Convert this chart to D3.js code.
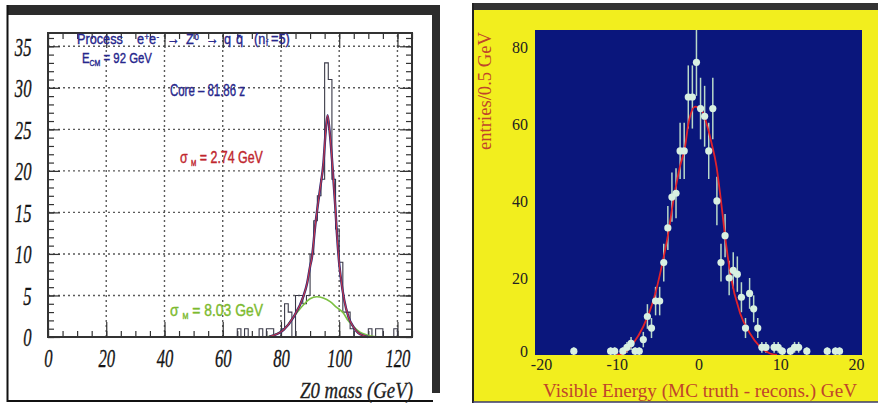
<!DOCTYPE html>
<html><head><meta charset="utf-8">
<script src="https://cdn.jsdelivr.net/npm/d3@7"></script>
<style>body{margin:0;background:#fff}svg{display:block}</style>
</head><body><svg id="c" width="878" height="406"></svg>
<script>
// ---------- Left panel data: Z0 mass histogram ----------
const massBinLow = [60,61.25,62.5,63.75,65,66.25,67.5,68.75,70,71.25,72.5,73.75,75,76.25,77.5,78.75,80,81.25,82.5,83.75,85,86.25,87.5,88.75,90,91.25,92.5,93.75,95,96.25,97.5,98.75,100,101.25,102.5,103.75,105,106.25,107.5,108.75,110,111.25,112.5,113.75,115,116.25,117.5,118.75,120];
const massCounts = [0,0,0,0,1,0,1,0,0,0,1,0,1,1,0,0,1,4,3,0,5,5,4,5,10,14,17,19,33,31,19,13,9,3,3,1,0,0,0,0,1,0,1,1,0,0,0,1,0];
const massBinWidth = 1.25;
const massTicks = [0,20,40,60,80,100,120];
const countTicks = [0,5,10,15,20,25,30,35];
// total fit (core + tail)
const coreFitX = [76,80.9,84.3,87.7,89,90,90.6,91.8,92.9,93.5,94.6,95.3,96,96.7,97.5,98,98.6,99.2,100.1,100.6,101.7,103.2,104.9,106.5,108.5,110];
const coreFitY = [0.05,0.85,2.4,4.9,6.5,8.5,9.5,13.5,16.5,18,21,24.5,26.7,24.8,21.5,19,16,12.5,8.5,7,4.5,2.4,1.2,0.5,0.15,0];
// tail fit (wide gaussian)
const tailFitX = [75,78,80.9,84.3,87.7,90,92.3,94.5,96.9,99,101.5,103,104.9,107,109.5,112,114,121];
const tailFitY = [0,0.3,0.85,2.4,3.85,4.6,4.85,4.7,4.25,3.6,2.85,2.0,1.25,0.6,0.25,0.05,0,0];

// ---------- Right panel data: visible energy resolution ----------
const energyBinCenter = [-15.25,-10.75,-10.25,-9.25,-8.75,-8.25,-7.75,-7.25,-6.75,-6.25,-5.75,-5.25,-4.75,-4.25,-3.75,-3.25,-2.75,-2.25,-1.75,-1.25,-0.75,-0.25,0.25,0.75,1.25,1.75,2.25,2.75,3.25,3.75,4.25,4.75,5.25,5.75,6.25,6.75,7.25,7.75,8.25,9.25,9.75,10.25,11.25,11.75,12.25,13.25,15.75,16.75,17.25];
const energyCounts = [1,1,1,1,2,3,1,1,4,10,7,14,14,24,33,41,42,53,53,67,67,76,64,62,53,64,40,24,31,20,22,21,15,7,16,12,7,2,2,2,2,1,1,2,2,1,1,1,1];
const energyErr = [1,1,1,1,1.4,1.7,1,1,2,3.2,2.6,3.7,3.7,4.9,5.7,6.4,6.5,7.3,7.3,8.2,8.2,8.7,8,7.9,7.3,8,6.3,4.9,5.6,4.5,4.7,4.6,3.9,2.6,4,3.5,2.6,1.4,1.4,1.4,1.4,1,1,1.4,1.4,1,1,1,1];
const energyFitX = [-10,-9.2,-8,-6.75,-5.5,-4.5,-3.7,-3.08,-2.26,-1.65,-1.24,-0.4,0.4,1.0,1.6,2.2,2.75,3.3,3.9,5.1,6.3,7.5,8.75,9.6];
const energyFitY = [0,0.4,3,7.4,14.3,23,31.6,40,49,54,60,64.5,63.5,60,55,49,40,30,21,10.8,5.6,2.2,0.4,0];
const energyXTicks = [-20,-10,0,10,20];
const energyYTicks = [0,20,40,60,80];

const svg = d3.select("#c");

// text helper: draw at font size, then squeeze horizontally to a target width
function fitLabel(x, y, width, attrs, build){
  const g = svg.append("g");
  const t = g.append("text");
  Object.entries(attrs).forEach(([k,v])=>t.attr(k,v));
  build(t);
  const w = t.node().getComputedTextLength();
  g.attr("transform",`translate(${x},${y}) scale(${width/w},1)`);
  return t;
}

// ================= LEFT PANEL =================
svg.append("rect").attr("x",7).attr("y",5).attr("width",433).attr("height",10).attr("fill","#2c2c2c");
svg.append("rect").attr("x",432).attr("y",5).attr("width",8).attr("height",388).attr("fill","#2c2c2c");
svg.append("rect").attr("x",8).attr("y",15).attr("width",424).attr("height",386).attr("fill","#fff");
svg.append("line").attr("x1",7.5).attr("x2",7.5).attr("y1",5).attr("y2",402).attr("stroke","#111").attr("stroke-width",2);
svg.append("line").attr("x1",7).attr("x2",433).attr("y1",401).attr("y2",401).attr("stroke","#111").attr("stroke-width",2);

const xM = d3.scaleLinear().domain([0,125]).range([48,412]);
const yM = d3.scaleLinear().domain([0,36.6]).range([337,33]);

// grid
const grid = svg.append("g").attr("stroke","#5a5a5a").attr("stroke-width",1.4).attr("stroke-dasharray","2,3");
massTicks.filter(v=>v>0).forEach(v=>grid.append("line").attr("x1",xM(v)).attr("x2",xM(v)).attr("y1",yM(0)).attr("y2",yM(36.6)));
countTicks.filter(v=>v>0).forEach(v=>grid.append("line").attr("x1",xM(0)).attr("x2",xM(125)).attr("y1",yM(v)).attr("y2",yM(v)));

function styleTicks(g){ g.select(".domain").remove(); g.selectAll("line").attr("stroke","#333").attr("stroke-width",1.2); }
const minorX = d3.range(0,126,5), minorY = d3.range(0,37,1);
svg.append("g").attr("transform",`translate(0,${yM(0)})`).call(d3.axisBottom(xM).tickValues(minorX).tickSize(-6).tickFormat("")).call(styleTicks);
svg.append("g").attr("transform",`translate(0,${yM(36.6)})`).call(d3.axisTop(xM).tickValues(minorX).tickSize(-6).tickFormat("")).call(styleTicks);
svg.append("g").attr("transform",`translate(0,${yM(36.6)})`).call(d3.axisTop(xM).tickValues(massTicks).tickSize(-15).tickFormat("")).call(styleTicks);
svg.append("g").attr("transform",`translate(${xM(0)},0)`).call(d3.axisLeft(yM).tickValues(minorY).tickSize(-6).tickFormat("")).call(styleTicks);
svg.append("g").attr("transform",`translate(${xM(125)},0)`).call(d3.axisRight(yM).tickValues(minorY).tickSize(-6).tickFormat("")).call(styleTicks);
svg.append("g").attr("transform",`translate(${xM(125)},0)`).call(d3.axisRight(yM).tickValues(countTicks).tickSize(-12).tickFormat("")).call(styleTicks);

const sx = 0.64;
const tickFont = g=>g.attr("font-family","'Liberation Serif',serif").attr("font-style","italic").attr("font-size",26)
  .attr("fill","#151515").attr("stroke","#151515").attr("stroke-width",0.35);
const bx = svg.append("g").attr("transform",`translate(0,${yM(0)})`).call(d3.axisBottom(xM).tickValues(massTicks).tickSize(-15).tickFormat(d=>String(d))).call(styleTicks);
bx.selectAll("text").call(tickFont).attr("y",30).attr("dy",0).attr("transform",`scale(${sx},1)`);
const ly = svg.append("g").attr("transform",`translate(${xM(0)},0)`).call(d3.axisLeft(yM).tickValues(countTicks).tickSize(-12).tickFormat(d=>String(d))).call(styleTicks);
ly.selectAll("text").call(tickFont).attr("x",-16.5/sx).attr("dy","0.34em").attr("transform",`scale(${sx},1)`);

// histogram
const histPts = massBinLow.map((b,i)=>[b,massCounts[i]]);
histPts.push([massBinLow[massBinLow.length-1]+massBinWidth,0]);
svg.append("path").datum(histPts)
  .attr("d",d3.line().x(d=>xM(d[0])).y(d=>yM(d[1])).curve(d3.curveStepAfter))
  .attr("fill","none").attr("stroke","#3a3a48").attr("stroke-width",1.1);

// fits
const lineM = d3.line().x(d=>xM(d[0])).y(d=>yM(d[1])).curve(d3.curveMonotoneX);
svg.append("path").datum(tailFitX.map((v,i)=>[v,tailFitY[i]])).attr("d",lineM).attr("fill","none").attr("stroke","#7cc043").attr("stroke-width",1.6);
const corePts = coreFitX.map((v,i)=>[v,coreFitY[i]]);
svg.append("path").datum(corePts).attr("d",lineM).attr("fill","none").attr("stroke","#2c2a78").attr("stroke-width",2.4);
svg.append("path").datum(corePts).attr("d",lineM).attr("fill","none").attr("stroke","#c8384a").attr("stroke-width",1.1);

// frame
svg.append("rect").attr("x",xM(0)).attr("y",yM(36.6)).attr("width",xM(125)-xM(0)).attr("height",yM(0)-yM(36.6))
  .attr("fill","none").attr("stroke","#333").attr("stroke-width",2);

// annotations
const sans = "'Liberation Sans',Arial,sans-serif";
const blueC = "#26268c";
const blueTxt = {"font-family":sans,"font-size":15.5,"fill":blueC,"stroke":blueC,"stroke-width":0.4};

// Process line: one text, segments placed at positions
(function(){
  const s = 0.82;
  const g = svg.append("g").attr("transform",`scale(${s},1)`);
  const t = g.append("text");
  Object.entries(blueTxt).forEach(([k,v])=>t.attr(k,v));
  const segs = [
    ["Process",77,44.5,15.5],["e",137,44.5,15.5],["+",144.5,40,9.5],["e",149,44.5,15.5],["-",156.5,40,9.5],
    ["\u2192",167,44.5,15.5],["Z",186,44.5,15.5],["0",194.5,40,9.5],["\u2192",206,44.5,15.5],
    ["q",224,44.5,15.5],["q\u0304",236,44.5,15.5],["(n",254,44.5,15.5],["f",266,46.3,9],["=5)",271,44.5,15.5]
  ];
  segs.forEach(([txt,x,y,fs])=>t.append("tspan").attr("x",x/s).attr("y",y).attr("font-size",fs).text(txt));
})();

fitLabel(82,63,70,blueTxt,t=>{
  t.append("tspan").text("E");
  t.append("tspan").attr("dy",3).attr("font-size",9.5).text("CM");
  t.append("tspan").attr("dy",-3).text(" = 92 GeV");
});
fitLabel(170,96,75,{...blueTxt,"font-size":16.5},t=>t.text("Core \u2013 81.86 z"));

function sigmaText(x,y,w,color,val){
  fitLabel(x,y,w,{"font-family":sans,"font-size":16.5,"fill":color,"stroke":color,"stroke-width":0.4},t=>{
    t.append("tspan").text("\u03c3 ");
    t.append("tspan").attr("dy",3).attr("font-size",8.5).text("M");
    t.append("tspan").attr("dy",-3).text(" = " + val + " GeV");
  });
}
sigmaText(180,163,83,"#c0262e","2.74");
sigmaText(170,316,93,"#7cba2e","8.03");

fitLabel(300,398,113,{"font-family":"'Liberation Serif',serif","font-style":"italic","font-size":23,"fill":"#222","stroke":"#222","stroke-width":0.3},
  t=>t.text("Z0 mass (GeV)"));

// ================= RIGHT PANEL =================
svg.append("rect").attr("x",473).attr("y",3).attr("width",405).attr("height",8).attr("fill","#333");
svg.append("rect").attr("x",474).attr("y",10).attr("width",404).attr("height",392).attr("fill","#f2ee1e");
svg.append("line").attr("x1",473).attr("x2",473).attr("y1",3).attr("y2",403).attr("stroke","#222").attr("stroke-width",2);
svg.append("line").attr("x1",473).attr("x2",878).attr("y1",402).attr("y2",402).attr("stroke","#3a3a6a").attr("stroke-width",1.5);

const xE = d3.scaleLinear().domain([-20,20]).range([535,862]);
const yE = d3.scaleLinear().domain([0,84.4]).range([355,30]);
svg.append("rect").attr("x",xE(-20)).attr("y",yE(84.4)).attr("width",xE(20)-xE(-20)).attr("height",yE(0)-yE(84.4)).attr("fill","#0a167c");
svg.append("clipPath").attr("id","pc").append("rect").attr("x",xE(-20)).attr("y",yE(84.4)).attr("width",xE(20)-xE(-20)).attr("height",yE(0)-yE(84.4));
const plotE = svg.append("g").attr("clip-path","url(#pc)");

plotE.selectAll("line.eb").data(energyBinCenter).enter().append("line")
  .attr("x1",d=>xE(d)).attr("x2",d=>xE(d))
  .attr("y1",(d,i)=>yE(energyCounts[i]+energyErr[i])).attr("y2",(d,i)=>yE(Math.max(0,energyCounts[i]-energyErr[i])))
  .attr("stroke","#b9d9c9").attr("stroke-width",1.5);
plotE.append("path").datum(energyFitX.map((v,i)=>[v,energyFitY[i]]))
  .attr("d",d3.line().x(d=>xE(d[0])).y(d=>yE(d[1])).curve(d3.curveMonotoneX))
  .attr("fill","none").attr("stroke","#e0222c").attr("stroke-width",1.8);
plotE.selectAll("circle").data(energyBinCenter).enter().append("circle")
  .attr("cx",d=>xE(d)).attr("cy",(d,i)=>yE(energyCounts[i])).attr("r",3.6).attr("fill","#d8f0e2");

const serif = "'Liberation Serif','Times New Roman',serif";
const ex = svg.append("g").attr("transform",`translate(0,${yE(0)})`).call(d3.axisBottom(xE).tickValues(energyXTicks).tickSize(0).tickFormat(d=>String(d)));
ex.select(".domain").remove();
ex.selectAll("text").attr("font-family",serif).attr("font-size",16).attr("fill","#222").attr("y",15).attr("dy",0)
  .attr("dx",d=>d===-20?6:(d===20?-6:0));
const ey = svg.append("g").attr("transform",`translate(${xE(-20)},0)`).call(d3.axisLeft(yE).tickValues(energyYTicks).tickSize(0).tickFormat(d=>String(d)));
ey.select(".domain").remove();
ey.selectAll("text").attr("font-family",serif).attr("font-size",16).attr("fill","#222").attr("x",-7).attr("dy",d=>d===0?"0.1em":"0.34em");

svg.append("text").attr("x",543).attr("y",397).attr("font-family",serif).attr("font-size",19).attr("fill","#c0452a")
  .attr("textLength",314).attr("lengthAdjust","spacingAndGlyphs").text("Visible Energy (MC truth - recons.)  GeV");
svg.append("text").attr("transform","translate(491,91) rotate(-90)").attr("text-anchor","middle")
  .attr("font-family",serif).attr("font-size",18).attr("fill","#c0452a")
  .attr("textLength",118).attr("lengthAdjust","spacingAndGlyphs").text("entries/0.5 GeV");
</script></body></html>
